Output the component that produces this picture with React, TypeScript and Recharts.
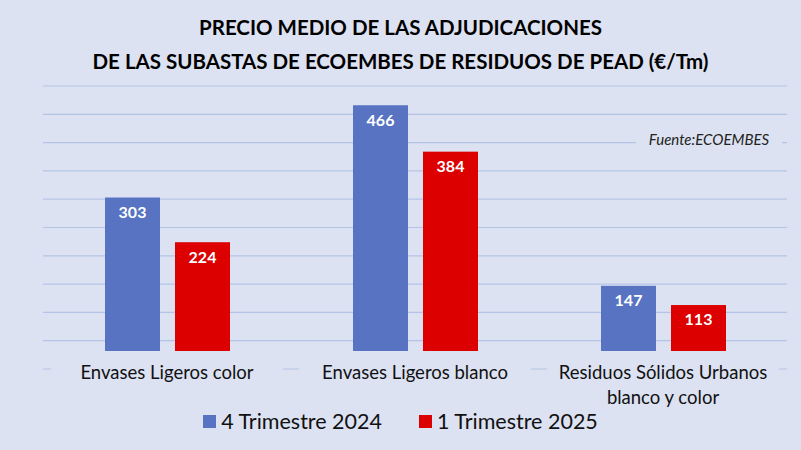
import { BarChart, Bar, XAxis, YAxis, CartesianGrid, Legend, LabelList } from "recharts";

const categories = ["Envases Ligeros color", "Envases Ligeros blanco", "Residuos Sólidos Urbanos|blanco y color"];
const q4_2024 = [303, 466, 147];
const q1_2025 = [224, 384, 113];
const yTicks = [0, 50, 100, 150, 200, 250, 300, 350, 400, 450, 500];

const BG = "#DCE2F1";
const BLUE = "#5773C2";
const RED = "#DC0000";
const FONT = "Lato, 'Noto Sans', sans-serif";

const data = categories.map((c, i) => ({ name: c, a: q4_2024[i], b: q1_2025[i] }));

// bars look cut off a bit above the zero line in the original
const CutBar = (props: any) => {
  const { x, y, width, height, fill } = props;
  const h = Math.max(0, height - 18);
  return <rect x={x} y={y} width={width} height={h} fill={fill} />;
};

const Tick = (props: any) => {
  const { x, y, payload } = props;
  const lines = String(payload.value).split("|");
  return (
    <g>
      <rect x={x - 116} y={y - 18} width={232} height={lines.length * 25 + 4} fill={BG} />
      {lines.map((l: string, i: number) => (
        <text key={i} x={x} y={y + 2 + i * 25} textAnchor="middle" fontFamily={FONT} fontSize={18.5} fill="#111">
          {l}
        </text>
      ))}
    </g>
  );
};

const LegendBox = () => (
  <div style={{ display: "flex", justifyContent: "center", gap: 37, fontFamily: FONT, fontSize: 21.5, color: "#111" }}>
    <span style={{ display: "flex", alignItems: "center" }}>
      <span style={{ width: 13, height: 13, background: BLUE, marginRight: 5 }} />4 Trimestre 2024
    </span>
    <span style={{ display: "flex", alignItems: "center" }}>
      <span style={{ width: 13, height: 13, background: RED, marginRight: 5 }} />1 Trimestre 2025
    </span>
  </div>
);

export default function App() {
  return (
    <div style={{ position: "absolute", left: 0, top: 0, width: 801, height: 450, background: BG, overflow: "hidden" }}>
      <div style={{ position: "absolute", top: 10, width: 801, textAlign: "center", fontFamily: FONT, fontWeight: 700, fontSize: 20.5, lineHeight: "34px", color: "#000" }}>
        PRECIO MEDIO DE LAS ADJUDICACIONES
        <br />
        DE LAS SUBASTAS DE ECOEMBES DE RESIDUOS DE PEAD (€/Tm)
      </div>
      <BarChart width={801} height={450} data={data} margin={{ top: 86, right: 14, bottom: 25, left: 43 }} barSize={55} barGap={15}>
        <CartesianGrid vertical={false} stroke="#B4C4E7" strokeWidth={1.2} />
        <XAxis dataKey="name" axisLine={false} tickLine={false} tick={<Tick />} interval={0} height={30} />
        <YAxis hide domain={[0, 500]} ticks={yTicks} />
        <Legend verticalAlign="bottom" content={<LegendBox />} wrapperStyle={{ position: "absolute", top: 408, left: 0, width: 801 }} />
        <Bar dataKey="a" name="4 Trimestre 2024" fill={BLUE} shape={<CutBar />} isAnimationActive={false}>
          <LabelList dataKey="a" position="insideTop" offset={9} fill="#fff" fontFamily={FONT} fontWeight={700} fontSize={16} />
        </Bar>
        <Bar dataKey="b" name="1 Trimestre 2025" fill={RED} shape={<CutBar />} isAnimationActive={false}>
          <LabelList dataKey="b" position="insideTop" offset={9} fill="#fff" fontFamily={FONT} fontWeight={700} fontSize={16} />
        </Bar>
      </BarChart>
      <div style={{ position: "absolute", left: 636, top: 129, width: 146, textAlign: "center", background: BG, fontFamily: FONT, fontStyle: "italic", fontSize: 15, lineHeight: "20px", color: "#222" }}>
        Fuente:ECOEMBES
      </div>
    </div>
  );
}
